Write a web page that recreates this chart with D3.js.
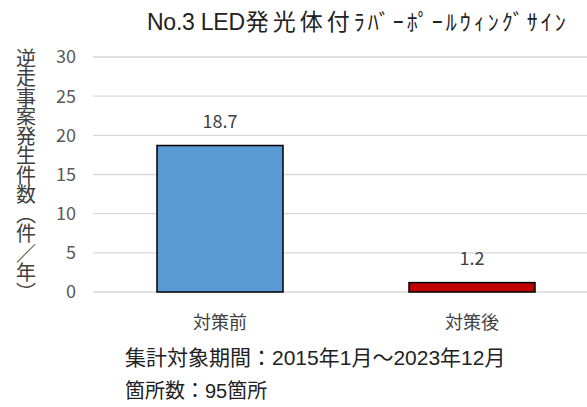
<!DOCTYPE html>
<html>
<head>
<meta charset="utf-8">
<script src="https://cdn.jsdelivr.net/npm/d3@7"></script>
<style>
  body { margin: 0; background: #fff; }
  text { font-family: "Liberation Sans", "Noto Sans CJK JP", sans-serif; }
</style>
</head>
<body>
<div id="chart"></div>
<script>
const categories = ["対策前", "対策後"];
const values = [18.7, 1.2];
const barColors = ["#5B9BD5", "#C00000"];
const yTicks = [0, 5, 10, 15, 20, 25, 30];

const width = 587, height = 407;
const margin = {top: 57, right: -11, bottom: 115, left: 94};
const cjk = "\"Noto Sans CJK JP\", sans-serif";

const svg = d3.select("#chart").append("svg")
  .attr("width", width).attr("height", height);

const x = d3.scaleBand().domain(categories)
  .range([margin.left, width - margin.right])
  .paddingInner(0.5).paddingOuter(0.25);

const y = d3.scaleLinear().domain([0, 30])
  .range([height - margin.bottom, margin.top]);

// gridlines
svg.append("g").selectAll("line").data(yTicks).join("line")
  .attr("x1", 93).attr("x2", width)
  .attr("y1", d => y(d)).attr("y2", d => y(d))
  .attr("stroke", "#d9d9d9").attr("stroke-width", 1.3);

// y tick labels
svg.append("g").selectAll("text").data(yTicks).join("text")
  .attr("x", 76).attr("y", d => y(d)).attr("dy", "0.36em")
  .attr("text-anchor", "end").attr("font-size", 18).attr("fill", "#595959")
  .style("font-family", cjk)
  .text(d => d);

// bars
svg.append("g").selectAll("rect").data(values).join("rect")
  .attr("x", (d, i) => x(categories[i]))
  .attr("y", d => y(d))
  .attr("width", x.bandwidth())
  .attr("height", d => y(0) - y(d))
  .attr("fill", (d, i) => barColors[i])
  .attr("stroke", "#000").attr("stroke-width", 1.5);

// value labels
svg.append("g").selectAll("text").data(values).join("text")
  .attr("x", (d, i) => x(categories[i]) + x.bandwidth() / 2)
  .attr("y", d => y(d) - 18)
  .attr("text-anchor", "middle").attr("font-size", 18).attr("fill", "#404040")
  .style("font-family", cjk)
  .text(d => d.toFixed(1));

// category labels
svg.append("g").selectAll("text").data(categories).join("text")
  .attr("x", d => x(d) + x.bandwidth() / 2)
  .attr("y", 329)
  .attr("text-anchor", "middle").attr("font-size", 18).attr("fill", "#404040")
  .style("font-family", cjk)
  .text(d => d);

// title, in three pieces so each part keeps its own width
const title = svg.append("text").attr("x", 147).attr("y", 30).attr("fill", "#222");
title.append("tspan").attr("font-size", 23)
  .attr("textLength", 98).attr("lengthAdjust", "spacing").text("No.3 LED");
title.append("tspan").attr("font-size", 23).attr("dx", 1)
  .attr("textLength", 104).attr("lengthAdjust", "spacing").text("発光体付");
title.append("tspan").attr("font-size", 22)
  .attr("textLength", 212).attr("lengthAdjust", "spacing").text("ﾗﾊﾞｰﾎﾟｰﾙｳｨﾝｸﾞｻｲﾝ");

// y axis title (vertical)
svg.append("text").attr("x", 26).attr("y", 48)
  .attr("font-size", 20).attr("fill", "#404040")
  .style("writing-mode", "vertical-rl").style("font-family", cjk)
  .style("letter-spacing", "-0.5px")
  .text("逆走事案発生件数（件／年）");

// footnotes
svg.append("text").attr("x", 125).attr("y", 365)
  .attr("font-size", 21).attr("fill", "#222")
  .text("集計対象期間：2015年1月～2023年12月");
svg.append("text").attr("x", 125).attr("y", 398)
  .attr("font-size", 20).attr("fill", "#222")
  .text("箇所数：95箇所");
</script>
</body>
</html>
